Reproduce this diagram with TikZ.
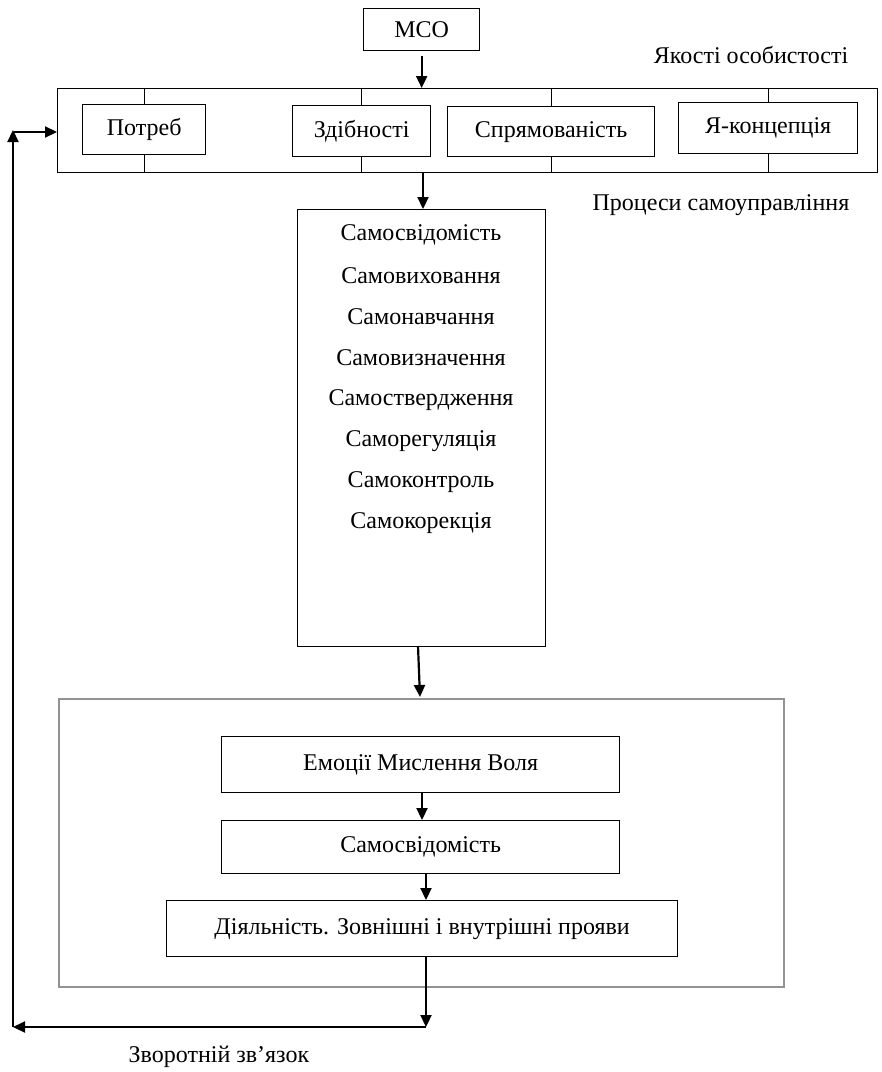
\documentclass[tikz,border=0pt]{standalone}
\usepackage{fontspec}
\setmainfont{Liberation Serif}
\usetikzlibrary{arrows.meta,calc}
\begin{document}
\begin{tikzpicture}[x=1pt,y=-1pt,
  every node/.style={font=\fontsize{24}{28}\selectfont},
  box/.style={draw,line width=1.3pt,inner sep=0pt,anchor=north west},
  arr/.style={line width=2.2pt,-{Triangle[length=12pt,width=11pt]}},
  tick/.style={line width=1pt}]
\useasboundingbox (0,0) rectangle (882,1072);
% top
\node[box,minimum width=116pt,minimum height=42pt] (mso) at (363,8) {};
\node at (mso.center) {МСО};
\node (lq) at (751,55) {Якості особистості};
\node[box,minimum width=820pt,minimum height=84pt] (big) at (57,88) {};
\node[box,minimum width=123pt,minimum height=50pt] (p1) at (82,104) {};
\node at (p1.center) {Потреб};
\node[box,minimum width=138pt,minimum height=51pt] (p2) at (292,105) {};
\node at (p2.center) {Здібності};
\node[box,minimum width=207pt,minimum height=50pt] (p3) at (447,106) {};
\node at (p3.center) {Спрямованість};
\node[box,minimum width=179pt,minimum height=51pt] (p4) at (678,102) {};
\node at (p4.center) {Я-концепція};
\foreach \n in {p1,p2,p3,p4}{
  \draw[tick] (\n.north) -- (\n.north |- big.north);
  \draw[tick] (\n.south) -- (\n.south |- big.south);
}
\draw[arr] (mso.south) ++(0,5) coordinate (m0) -- (m0 |- big.north);
\node (lp) at (721,205) {Процеси самоуправління};
% middle
\node[box,minimum width=248pt,minimum height=437pt] (mid) at (297,209) {};
\coordinate (a1) at (423,172);
\draw[arr] (a1) -- (a1 |- mid.north);
\node (s1) at (421,235) {Самосвідомість};
\node (s2) at (421,276) {Самовиховання};
\node (s3) at (421,317) {Самонавчання};
\node (s4) at (421,358) {Самовизначення};
\node (s5) at (421,400) {Самоствердження};
\node (s6) at (421,441) {Саморегуляція};
\node (s7) at (421,482) {Самоконтроль};
\node (s8) at (421,523) {Самокорекція};
% bottom group
\node[draw=gray!85,line width=2.2pt,inner sep=0pt,anchor=north west,minimum width=725pt,minimum height=288pt] (grey) at (58,698) {};
\coordinate (a2) at (418,646);
\draw[arr] (a2) -- (420,697);
\node[box,minimum width=398pt,minimum height=56pt] (e) at (221,736) {};
\node at (e.center) {Емоції Мислення Воля};
\node[box,minimum width=398pt,minimum height=53pt] (sv) at (221,820) {};
\node at (sv.center) {Самосвідомість};
\node[box,minimum width=511pt,minimum height=56pt] (d) at (166,900) {};
\node at (d.center) {Діяльність. Зовнішні і внутрішні прояви};
\coordinate (b1) at (422,792);
\draw[arr] (b1) -- (b1 |- sv.north);
\coordinate (b2) at (426,873);
\draw[arr] (b2) -- (b2 |- d.north);
% feedback
\coordinate (c0) at (426,956);
\coordinate (c1) at (426,1027);
\coordinate (c2) at (13,1027);
\coordinate (c3) at (13,130);
\coordinate (c4) at (14,132);
\draw[arr] (c0) -- (c1);
\draw[arr] (c1) -- (c2);
\draw[arr] (c2) -- (c3);
\draw[arr] (c4) -- (c4 -| big.west);
\node (fb) at (219,1057) {Зворотній зв’язок};
\end{tikzpicture}
\end{document}
